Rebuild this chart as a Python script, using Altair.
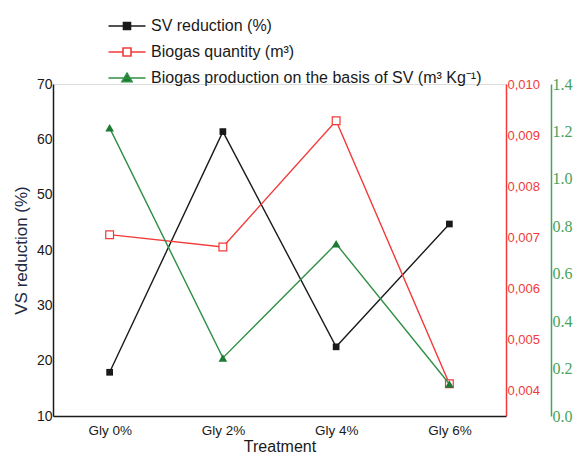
import altair as alt
import pandas as pd

categories = ["Gly 0%", "Gly 2%", "Gly 4%", "Gly 6%"]
sv_reduction = [17.9, 61.4, 22.5, 44.7]
biogas_quantity = [0.00705, 0.00681, 0.00928, 0.00413]
biogas_per_sv = [1.215, 0.245, 0.726, 0.135]

series_names = [
    "SV reduction (%)",
    "Biogas quantity (m³)",
    "Biogas production on the basis of SV (m³ Kg⁻¹)",
]
left_ticks = [10, 20, 30, 40, 50, 60, 70]
red_ticks = [0.004, 0.005, 0.006, 0.007, 0.008, 0.009, 0.010]
green_ticks = [0.0, 0.2, 0.4, 0.6, 0.8, 1.0, 1.2, 1.4]

BLACK = "#1a1a1a"
RED = "#f23a3a"
GREEN = "#2f8f44"
GREEN_AX = "#46a35a"

df = pd.DataFrame({
    "Treatment": categories,
    "sv": sv_reduction,
    "qty": biogas_quantity,
    "psv": biogas_per_sv,
})
leg_df = pd.DataFrame({"series": series_names})

x_enc = alt.X(
    "Treatment:N",
    sort=categories,
    scale=alt.Scale(type="point", padding=0.5),
    axis=alt.Axis(
        title="Treatment", labelAngle=0, ticks=False, domainColor=BLACK,
        domainWidth=1.5, labelFont="Liberation Sans", labelFontSize=13.5,
        labelColor=BLACK, labelPadding=7, titleFont="Liberation Sans",
        titleFontSize=16, titleFontWeight="normal", titleColor=BLACK,
        titlePadding=2,
    ),
)

base = alt.Chart(df)

# black series
y_sv = alt.Y(
    "sv:Q",
    scale=alt.Scale(domain=[10, 70], nice=False, zero=False),
    axis=alt.Axis(
        orient="left", values=left_ticks, title="VS reduction (%)", ticks=False,
        grid=False, domainColor=BLACK, domainWidth=1.5, labelFont="Liberation Sans",
        labelFontSize=14, labelColor=BLACK, labelPadding=1,
        titleFont="Liberation Sans", titleFontSize=17, titleFontWeight="normal",
        titleColor="#222a44", titlePadding=6,
    ),
)
sv_layer = alt.layer(
    base.mark_line(color=BLACK, strokeWidth=1.4).encode(x=x_enc, y=y_sv),
    base.mark_point(shape="square", filled=True, color=BLACK, size=45, opacity=1).encode(x=x_enc, y=y_sv),
)

# red series
y_qty = alt.Y(
    "qty:Q",
    scale=alt.Scale(domain=[0.0035, 0.010], nice=False, zero=False),
    axis=alt.Axis(
        orient="right", values=red_ticks, title=None, ticks=False, grid=False,
        domainColor=RED, domainWidth=1.5, labelFont="Liberation Sans",
        labelFontSize=13, labelColor=RED, labelPadding=1,
        labelExpr="replace(format(datum.value, '.3f'), '.', ',')",
    ),
)
qty_layer = alt.layer(
    base.mark_line(color=RED, strokeWidth=1.4).encode(x=x_enc, y=y_qty),
    base.mark_point(shape="square", filled=False, fill="white", color=RED, stroke=RED,
                    strokeWidth=1.2, size=60, opacity=1).encode(x=x_enc, y=y_qty),
)

# green series
y_psv = alt.Y(
    "psv:Q",
    scale=alt.Scale(domain=[0, 1.4], nice=False),
    axis=alt.Axis(
        orient="right", offset=45, values=green_ticks, format=".1f", title=None,
        ticks=False, grid=False, domainColor=GREEN_AX, domainWidth=1.5,
        labelFont="Liberation Serif", labelFontSize=16, labelColor=GREEN_AX,
        labelPadding=1,
    ),
)
psv_layer = alt.layer(
    base.mark_line(color=GREEN, strokeWidth=1.4).encode(x=x_enc, y=y_psv),
    base.mark_point(shape="triangle-up", filled=True, color="#1d7a34", size=75, opacity=1).encode(x=x_enc, y=y_psv),
)

# legend (invisible carrier layer)
leg_paths = [
    "M-3.7,0H3.7M-0.7,-0.7H0.7V0.7H-0.7Z",
    "M-3.7,0H-0.8M0.8,0H3.7M-0.8,-0.8H0.8V0.8H-0.8Z",
    "M-3.7,0H3.7M0,-0.95L1,0.75H-1Z",
]
leg = alt.Legend(
    title=None, orient="none", legendX=66, legendY=-66, padding=0,
    symbolSize=100, symbolStrokeWidth=1.6, symbolOpacity=1, labelOffset=16,
    rowPadding=10, labelFont="Liberation Sans", labelFontSize=16,
    labelColor=BLACK, labelLimit=500,
)
legend_layer = alt.Chart(leg_df).mark_point(opacity=0, filled=False).encode(
    shape=alt.Shape("series:N", sort=series_names,
                    scale=alt.Scale(domain=series_names, range=leg_paths), legend=leg),
    stroke=alt.Stroke("series:N", sort=series_names,
                      scale=alt.Scale(domain=series_names, range=[BLACK, RED, GREEN]), legend=leg),
    fill=alt.Fill("series:N", sort=series_names,
                  scale=alt.Scale(domain=series_names, range=[BLACK, "white", "#1d7a34"]), legend=leg),
)

chart = alt.layer(sv_layer, qty_layer, psv_layer, legend_layer).resolve_scale(
    y="independent"
).properties(
    width=453,
    height=332,
    autosize=alt.AutoSizeParams(type="none"),
    padding={"left": 53, "top": 84, "right": 72, "bottom": 38},
).configure_view(stroke=None).configure(background="white")

chart.save("out.html", embed_options={"renderer": "svg", "actions": False})
